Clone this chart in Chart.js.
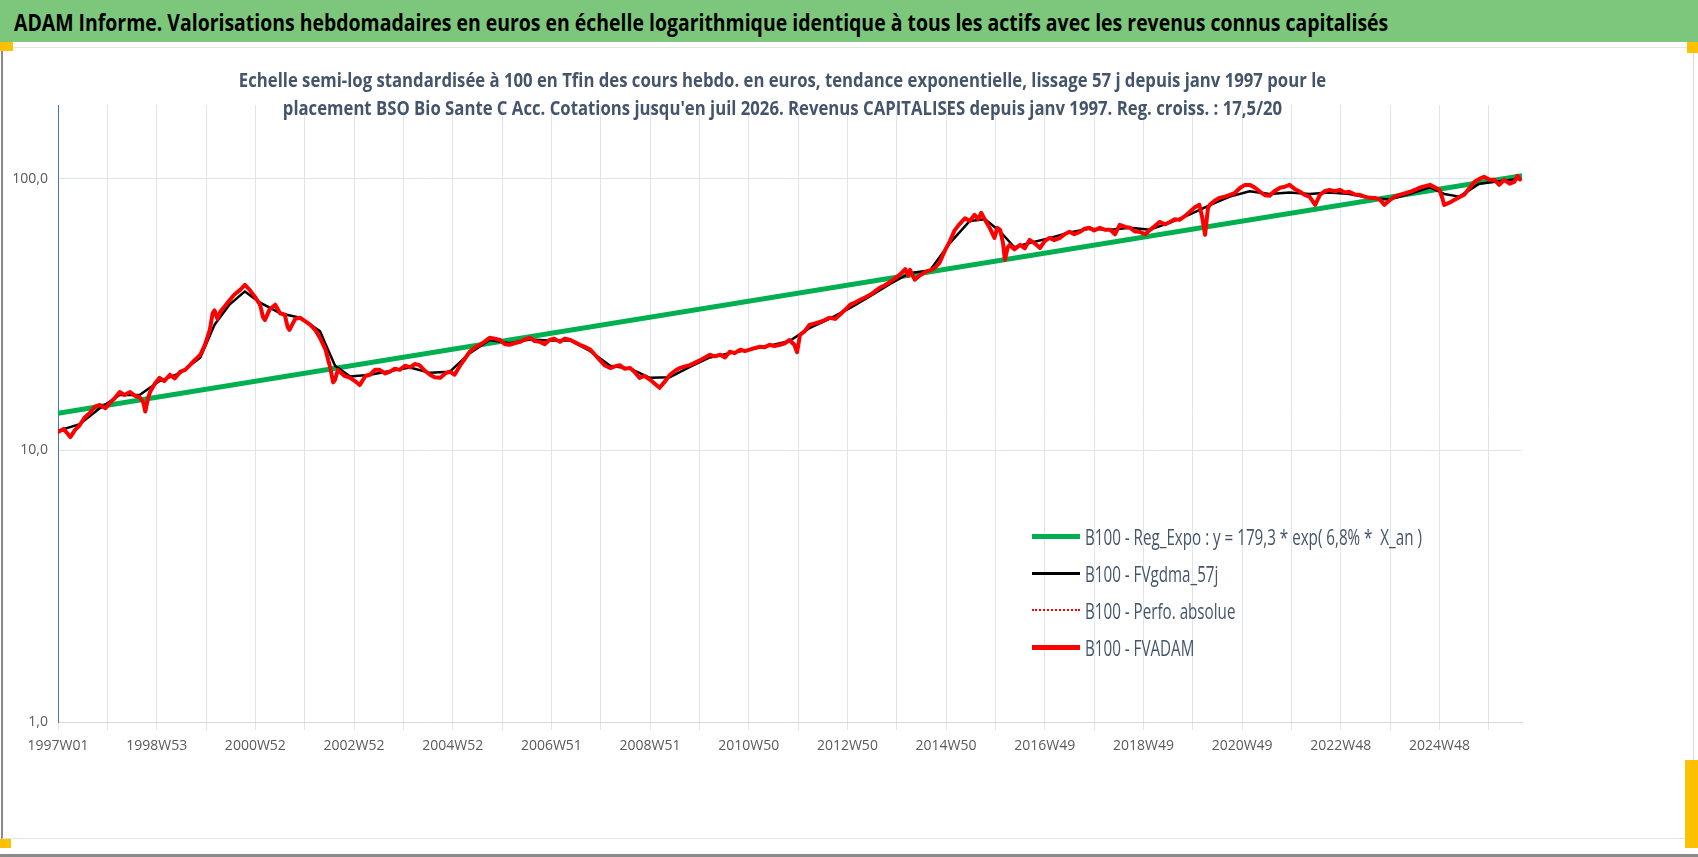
<!DOCTYPE html>
<html>
<head>
<meta charset="utf-8">
<script src="https://cdn.jsdelivr.net/npm/chart.js@4"></script>
<style>
  html, body { margin: 0; padding: 0; background: #fff; }
  body { width: 1698px; height: 857px; position: relative; overflow: hidden;
         font-family: "Open Sans", sans-serif; }
  #banner { position: absolute; left: 0; top: 0; width: 1698px; height: 42px; background: #7CC77C; }
  #banner span { position: absolute; left: 14px; top: 6px; font-size: 23px; font-weight: bold; color: #000;
                 white-space: nowrap; transform: scaleX(0.845); transform-origin: left center; }
  #frame { position: absolute; left: 1px; top: 47px; width: 1690px; height: 790px;
           border-left: 2px solid #8a8a8a; border-right: 1px solid #dcdcdc; border-top: 1px solid #e4e4e4; border-bottom: 1px solid #e4e4e4; }
  #outer { position: absolute; left: 0; top: 854px; width: 1698px; height: 3px; background: #8a8a8a; }
  .handle { position: absolute; background: #FFC000; }
  #sub { position: absolute; left: 0; width: 1565px; top: 66px; text-align: center; color: #44546A;
         font-size: 19px; font-weight: bold; line-height: 28px; white-space: nowrap;
         transform: scaleX(0.88); transform-origin: center; }
  canvas { position: absolute; left: 0; top: 0; }
  #legend { position: absolute; left: 1032px; top: 516px; color: #44546A; font-size: 22px; }
  #legend div { height: 37px; line-height: 34px; white-space: nowrap; }
  #legend i { display: inline-block; width: 48px; vertical-align: middle; margin-right: 5px; }
  #legend span { display: inline-block; vertical-align: middle; transform: scaleX(0.69); transform-origin: left center; }
</style>
</head>
<body>
<div id="banner"><span>ADAM Informe. Valorisations hebdomadaires en euros en échelle logarithmique identique à tous les actifs avec les revenus connus capitalisés</span></div>
<div id="frame"></div>
<div id="outer"></div>
<div class="handle" style="left:0;top:42px;width:13px;height:9px"></div>
<div class="handle" style="left:1687px;top:42px;width:11px;height:11px"></div>
<div class="handle" style="left:0;top:839px;width:11px;height:9px"></div>
<div class="handle" style="left:1685px;top:760px;width:13px;height:88px"></div>
<canvas id="myChart" width="1698" height="857"></canvas>
<div id="sub">Echelle semi-log standardisée à 100 en Tfin des cours hebdo. en euros, tendance exponentielle, lissage 57 j depuis janv 1997 pour le<br>placement BSO Bio Sante C Acc. Cotations jusqu'en juil 2026. Revenus CAPITALISES depuis janv 1997. Reg. croiss. : 17,5/20</div>
<div id="legend">
  <div><i style="border-top:5px solid #00B050"></i><span>B100 - Reg_Expo : y = 179,3 * exp( 6,8% *&nbsp; X_an )</span></div>
  <div><i style="border-top:3px solid #000"></i><span>B100 - FVgdma_57j</span></div>
  <div><i style="border-top:2px dotted #FF0000"></i><span>B100 - Perfo. absolue</span></div>
  <div><i style="border-top:5px solid #FF0000"></i><span>B100 - FVADAM</span></div>
</div>
<script>
// week index counted from 1997W01
const tickLabels = ["1997W01", "1998W53", "2000W52", "2002W52", "2004W52", "2006W51", "2008W51", "2010W50",
  "2012W50", "2014W50", "2016W49", "2018W49", "2020W49", "2022W48", "2024W48"];
const yTicks = [1, 10, 100];

const trendWeeks = [0, 1543];
const trendValues = [13.7, 102.6];

const fvadamWeeks = [0, 6, 13, 18, 23, 28, 34, 39, 44, 50, 55, 60, 65, 70, 76, 81, 86, 90, 92, 95, 97, 102, 107, 112, 118, 123, 129, 134, 139, 144,
  150, 155, 160, 163, 165, 168, 171, 176, 181, 186, 192, 197, 202, 207, 213, 216, 218, 223, 229, 234, 239, 242, 244, 250, 255, 260, 266, 271, 276, 282,
  287, 290, 292, 295, 297, 302, 308, 313, 318, 324, 329, 334, 339, 345, 350, 355, 360, 366, 371, 376, 381, 387, 392, 397, 403, 408, 413, 418, 424, 429,
  434, 440, 445, 450, 455, 460, 466, 471, 476, 481, 487, 492, 497, 502, 508, 513, 518, 523, 529, 534, 540, 545, 550, 556, 561, 566, 571, 576, 582, 587,
  592, 597, 603, 608, 613, 618, 624, 629, 634, 640, 645, 650, 655, 661, 666, 671, 677, 682, 687, 692, 698, 703, 708, 713, 719, 724, 729, 734, 740, 745,
  750, 755, 761, 766, 771, 776, 779, 782, 787, 792, 797, 803, 808, 813, 819, 824, 829, 835, 840, 845, 850, 856, 861, 866, 871, 877, 882, 887, 893, 896,
  898, 903, 908, 914, 919, 924, 929, 935, 940, 945, 950, 956, 961, 966, 970, 973, 977, 982, 987, 990, 993, 996, 998, 1001, 1003, 1008, 1014, 1019, 1024, 1029,
  1035, 1040, 1045, 1050, 1056, 1061, 1066, 1071, 1077, 1082, 1087, 1092, 1098, 1103, 1109, 1114, 1119, 1125, 1130, 1135, 1140, 1146, 1151, 1156, 1161, 1167, 1172, 1177, 1182, 1188,
  1193, 1198, 1203, 1206, 1209, 1212, 1214, 1219, 1224, 1230, 1235, 1240, 1246, 1251, 1256, 1261, 1267, 1272, 1277, 1282, 1288, 1293, 1298, 1303, 1309, 1314, 1319, 1325, 1330, 1335,
  1340, 1346, 1351, 1356, 1361, 1367, 1372, 1377, 1383, 1388, 1393, 1398, 1404, 1409, 1414, 1420, 1425, 1430, 1435, 1441, 1446, 1451, 1456, 1459, 1461, 1466, 1472, 1477, 1482, 1487,
  1493, 1498, 1503, 1509, 1514, 1519, 1524, 1530, 1535, 1538, 1541];
const fvadamValues = [11.7, 12.0, 11.2, 11.9, 12.4, 13.2, 13.8, 14.5, 14.7, 14.3, 15.0, 15.6, 16.4, 16.0, 16.4, 15.9, 15.7, 15.0, 13.9, 15.6, 16.4, 17.6, 18.5, 18.0, 19.0, 18.4, 19.5, 19.8, 20.6, 21.5,
  22.5, 24.5, 27.8, 32.0, 32.8, 30.5, 32.4, 34.0, 35.8, 37.5, 39.0, 40.7, 39.0, 37.0, 34.4, 31.0, 30.2, 33.0, 34.4, 32.0, 31.6, 28.5, 27.8, 30.5, 30.8, 30.0, 29.0, 27.8, 26.0, 23.5,
  20.1, 17.8, 18.2, 19.8, 19.5, 18.8, 18.5, 18.0, 17.4, 18.8, 19.0, 19.8, 19.8, 19.2, 19.5, 20.0, 19.8, 20.5, 20.2, 20.8, 20.6, 19.6, 19.0, 18.6, 18.5, 19.2, 19.5, 19.0, 20.6, 21.8,
  23.1, 24.0, 24.5, 25.2, 26.0, 25.8, 25.5, 24.6, 24.5, 24.8, 25.1, 25.6, 26.0, 25.3, 25.1, 24.6, 25.5, 25.8, 25.1, 25.8, 25.5, 25.0, 24.5, 24.0, 23.5, 22.5, 21.5, 20.6, 20.1, 20.4,
  20.6, 20.0, 20.1, 19.4, 18.5, 18.8, 18.2, 17.6, 17.0, 18.0, 19.0, 19.6, 20.1, 20.4, 20.6, 21.0, 21.5, 22.0, 22.5, 22.2, 22.5, 22.0, 23.1, 22.8, 23.5, 23.2, 23.5, 23.8, 24.1, 24.0,
  24.5, 24.2, 24.5, 24.8, 25.5, 24.5, 23.0, 26.6, 27.5, 29.0, 29.3, 29.7, 30.2, 30.8, 30.5, 31.6, 32.8, 34.4, 35.0, 35.8, 36.5, 37.4, 38.5, 39.7, 40.5, 41.7, 43.0, 44.3, 46.5, 44.0,
  46.2, 42.5, 44.0, 45.4, 46.0, 47.0, 49.0, 54.6, 59.0, 64.6, 68.0, 71.6, 70.0, 73.7, 71.0, 75.0, 70.6, 66.0, 60.6, 66.0, 64.9, 58.0, 50.3, 56.0, 57.1, 55.0, 57.1, 55.5, 59.6, 58.0,
  55.7, 59.0, 60.6, 59.5, 60.6, 62.5, 63.8, 62.5, 63.8, 65.5, 66.0, 64.5, 66.0, 65.0, 64.9, 62.5, 67.7, 66.5, 66.0, 64.0, 63.8, 62.5, 64.9, 67.0, 69.4, 68.0, 69.4, 71.0, 70.6, 73.0,
  75.6, 78.5, 80.2, 72.0, 62.2, 78.0, 80.2, 83.0, 85.1, 86.0, 87.3, 88.5, 92.7, 95.0, 95.0, 93.0, 89.6, 87.0, 86.6, 90.0, 92.7, 93.5, 95.0, 92.0, 89.6, 87.3, 86.0, 80.2, 87.3, 90.0,
  91.1, 90.0, 91.1, 89.0, 89.6, 87.5, 87.3, 86.0, 85.1, 85.0, 84.0, 80.2, 83.7, 86.0, 87.3, 88.5, 89.6, 91.0, 92.7, 94.0, 95.0, 93.0, 91.1, 85.0, 80.2, 81.5, 83.7, 85.5, 87.3, 92.0,
  97.5, 100.0, 101.7, 99.2, 99.2, 95.0, 99.2, 96.0, 97.5, 102.6, 99.5];

const gdmaWeeks = [0, 23, 44, 65, 86, 107, 129, 150, 165, 181, 197, 213, 234, 255, 276, 292, 308, 329, 350, 371, 392, 413, 434, 455, 476, 497, 518, 540, 561, 582,
  603, 624, 645, 666, 687, 708, 729, 750, 771, 792, 813, 835, 856, 877, 898, 919, 940, 961, 977, 993, 1008, 1024, 1045, 1066, 1087, 1109, 1130, 1151, 1172, 1193,
  1214, 1235, 1256, 1277, 1298, 1319, 1340, 1361, 1383, 1404, 1425, 1446, 1461, 1477, 1498, 1519, 1541];
const gdmaValues = [11.8, 12.5, 14.3, 16.0, 16.0, 18.0, 19.3, 22.0, 29.0, 34.5, 38.5, 35.0, 32.0, 30.8, 27.5, 20.5, 18.7, 19.0, 19.6, 20.2, 19.3, 19.5, 22.8, 25.5, 24.8, 25.6, 25.4, 25.4, 23.2, 20.5,
  20.0, 18.5, 18.6, 20.3, 22.0, 22.8, 23.5, 24.3, 25.3, 28.2, 30.5, 33.5, 37.0, 41.0, 45.0, 46.0, 58.0, 70.0, 71.0, 64.0, 56.0, 58.0, 60.5, 63.5, 65.5, 65.0, 66.0, 65.0, 69.0, 74.0,
  80.0, 86.0, 90.0, 88.0, 89.0, 88.0, 89.0, 88.0, 85.0, 84.0, 88.0, 93.0, 88.0, 86.0, 96.0, 98.0, 100.0];

const toXY = (weeks, values) => weeks.map((w, i) => ({ x: w, y: values[i] }));

const ctx = document.getElementById('myChart');
new Chart(ctx, {
  type: 'line',
  data: {
    datasets: [
      { label: "B100 - FVADAM", data: toXY(fvadamWeeks, fvadamValues), borderColor: "#FF0000", borderWidth: 4, order: 0 },
      { label: "B100 - Perfo. absolue", data: toXY(fvadamWeeks, fvadamValues), borderColor: "#FF0000", borderWidth: 1.5, borderDash: [2, 2], order: 1 },
      { label: "B100 - FVgdma_57j", data: toXY(gdmaWeeks, gdmaValues), borderColor: "#000000", borderWidth: 2.5, order: 2 },
      { label: "B100 - Reg_Expo", data: toXY(trendWeeks, trendValues), borderColor: "#00B050", borderWidth: 5, order: 3 }
    ]
  },
  options: {
    responsive: false,
    animation: false,
    layout: { padding: { left: 0, top: 105, right: 176, bottom: 0 } },
    elements: { point: { radius: 0 }, line: { tension: 0, borderCapStyle: 'round', borderJoinStyle: 'round' } },
    plugins: { legend: { display: false }, tooltip: { enabled: false } },
    scales: {
      x: {
        type: 'linear', min: 0, max: 1543,
        afterFit: s => { s.height = 135; },
        afterBuildTicks: s => {
          const t = [];
          for (let w = 0; w <= 1543; w += 52) t.push({ value: w });
          s.ticks = t;
        },
        ticks: {
          autoSkip: false, maxRotation: 0, padding: 8, color: '#595959',
          font: { size: 14, family: '"Open Sans", sans-serif' },
          callback: v => (v % 104 === 0 ? tickLabels[v / 104] : '')
        },
        grid: { color: '#dfe3ec', tickLength: 8, drawOnChartArea: true },
        border: { color: '#d9d9d9', width: 1 }
      },
      y: {
        type: 'logarithmic', min: 1, max: 187,
        afterFit: s => { s.width = 58; },
        afterBuildTicks: s => { s.ticks = yTicks.map(v => ({ value: v })); },
        ticks: {
          padding: 10, color: '#595959',
          font: { size: 14, family: '"Open Sans", sans-serif' },
          callback: v => v.toFixed(1).replace('.', ',')
        },
        grid: { color: '#dfe3ec', tickLength: 0 },
        border: { color: '#4472C4', width: 1 }
      }
    }
  }
});
</script>
</body>
</html>
